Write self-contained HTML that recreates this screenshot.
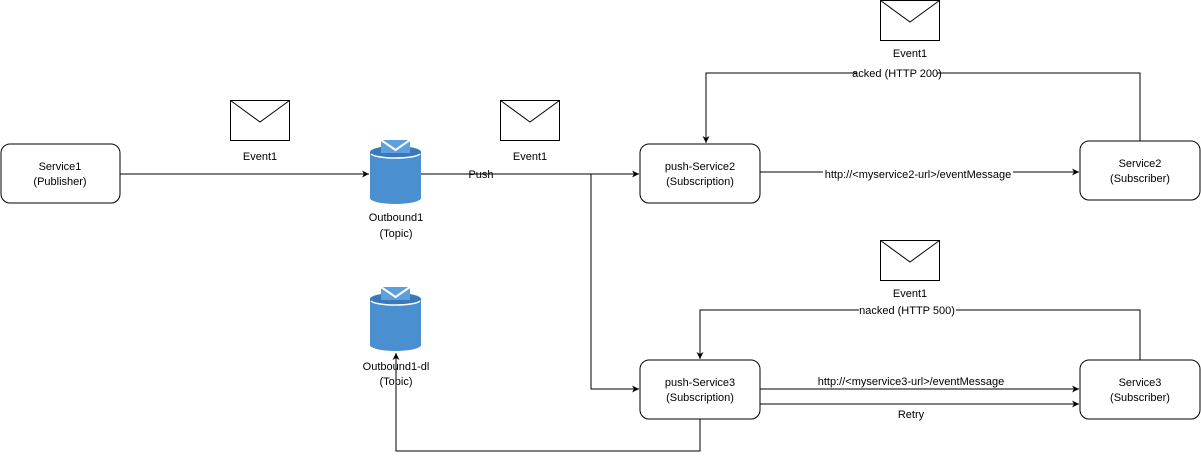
<!DOCTYPE html><html><head><style>body{margin:0;background:#fff}text{font-family:"Liberation Sans",sans-serif;font-size:11px;fill:#000}</style></head><body>
<svg width="1201" height="459" xmlns="http://www.w3.org/2000/svg">
<defs><marker id="a" markerWidth="8" markerHeight="8" refX="7" refY="4" orient="auto" markerUnits="userSpaceOnUse"><path d="M0,0.5 L7,4 L0,7.5 L2,4 Z" fill="#000"/></marker>
<g id="cyl"><path d="M0,12 L0,58 A25.5,6 0 0 0 51,58 L51,12 Z" fill="#4a8fcf"/><ellipse cx="25.5" cy="12" rx="25.5" ry="6" fill="#3a78b8"/><path d="M1,14 A25,5 0 0 0 50,14" stroke="#fff" stroke-width="1.5" fill="none"/><rect x="11" y="0" width="29" height="13" fill="#5ea0dc"/><path d="M11,0 L25.5,10 L40,0" stroke="#fff" stroke-width="2" fill="none"/></g>
<g id="env"><rect x="0.5" y="0.5" width="59" height="40" fill="#fff" stroke="#000"/><path d="M0.5,0.5 L30,22 L59.5,0.5" fill="none" stroke="#000"/></g>
</defs>
<g fill="#fff" stroke="#000">
<rect x="1" y="144" width="119" height="59" rx="9"/>
<rect x="640" y="144" width="120" height="59" rx="9"/>
<rect x="640" y="360" width="120" height="59" rx="9"/>
<rect x="1080" y="141" width="120" height="59" rx="9"/>
<rect x="1080" y="360" width="120" height="59" rx="9"/>
</g>
<use href="#cyl" x="370" y="140"/><use href="#cyl" x="370" y="287"/>
<use href="#env" x="230" y="100"/><use href="#env" x="500" y="100"/><use href="#env" x="880" y="0"/><use href="#env" x="880" y="240"/>
<g stroke="#000" fill="none" stroke-width="1">
<path d="M120,174 H369" marker-end="url(#a)"/>
<path d="M421,174 H639" marker-end="url(#a)"/>
<path d="M591,174 V389 H639" marker-end="url(#a)"/>
<path d="M760,172 H1079" marker-end="url(#a)"/>
<path d="M1140,141 V73 H706 V143" marker-end="url(#a)"/>
<path d="M1140,360 V310 H700 V359" marker-end="url(#a)"/>
<path d="M760,389 H1079" marker-end="url(#a)"/>
<path d="M760,404 H1079" marker-end="url(#a)"/>
<path d="M700,419 V451 H396 V353" marker-end="url(#a)"/>
</g>
<g text-anchor="middle">
<text x="60" y="170">Service1</text><text x="60" y="185">(Publisher)</text>
<text x="700" y="170">push-Service2</text><text x="700" y="185">(Subscription)</text>
<text x="700" y="386">push-Service3</text><text x="700" y="401">(Subscription)</text>
<text x="1140" y="167">Service2</text><text x="1140" y="182">(Subscriber)</text>
<text x="1140" y="386">Service3</text><text x="1140" y="401">(Subscriber)</text>
<text x="396" y="221">Outbound1</text><text x="396" y="237">(Topic)</text>
<text x="396" y="370">Outbound1-dl</text><text x="396" y="385">(Topic)</text>
<text x="260" y="160">Event1</text><text x="530" y="160">Event1</text>
<text x="910" y="57">Event1</text><text x="910" y="297">Event1</text>
<text x="481" y="178">Push</text>
<rect x="857" y="67" width="80" height="13" fill="#fff"/><text x="897" y="77">acked (HTTP 200)</text>
<rect x="859" y="304" width="97" height="13" fill="#fff"/><text x="907" y="314">nacked (HTTP 500)</text>
<rect x="823" y="167" width="190" height="13" fill="#fff"/><text x="918" y="178">http://&lt;myservice2-url&gt;/eventMessage</text>
<text x="911" y="385">http://&lt;myservice3-url&gt;/eventMessage</text>
<text x="911" y="418">Retry</text>
</g>
</svg></body></html>
